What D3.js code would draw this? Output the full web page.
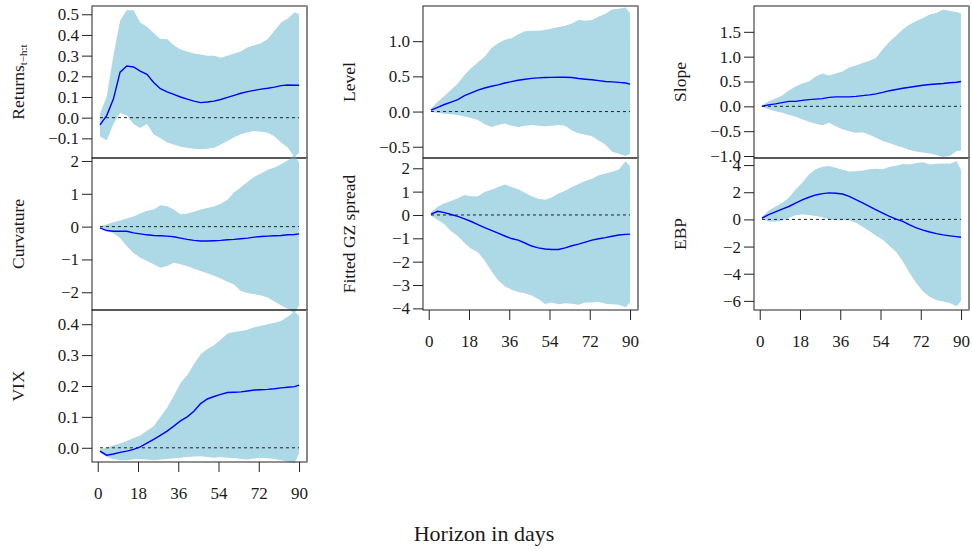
<!DOCTYPE html>
<html>
<head>
<meta charset="utf-8">
<script src="https://cdn.jsdelivr.net/npm/d3@7"></script>
<style>
body { margin: 0; background: #fff; }
text { font-family: "Liberation Serif", serif; fill: #1a1a1a; }
</style>
</head>
<body>
<div id="chart"></div>
<script>
var width = 972;
var height = 551;

var horizon = [1, 4, 7, 10, 13, 16, 19, 22, 25, 28, 31, 34, 37, 40, 43, 46, 49, 52, 55, 58, 61, 64, 67, 70, 73, 76, 79, 82, 85, 88, 90];
var xTicks = [0, 18, 36, 54, 72, 90];

var returnsMean = [-0.035, 0.01, 0.09, 0.22, 0.25, 0.245, 0.225, 0.21, 0.17, 0.14, 0.125, 0.113, 0.1, 0.09, 0.08, 0.073, 0.076, 0.08, 0.088, 0.098, 0.108, 0.118, 0.126, 0.132, 0.138, 0.142, 0.148, 0.155, 0.158, 0.157, 0.157];
var returnsUpper = [0.02, 0.1, 0.3, 0.47, 0.52, 0.52, 0.46, 0.44, 0.41, 0.38, 0.38, 0.35, 0.33, 0.32, 0.31, 0.305, 0.3, 0.3, 0.29, 0.3, 0.31, 0.32, 0.34, 0.35, 0.36, 0.38, 0.42, 0.46, 0.48, 0.51, 0.5];
var returnsLower = [-0.09, -0.11, -0.03, 0.024, 0.01, -0.03, -0.05, -0.03, -0.08, -0.1, -0.12, -0.13, -0.14, -0.145, -0.15, -0.153, -0.15, -0.145, -0.13, -0.113, -0.095, -0.08, -0.07, -0.065, -0.068, -0.073, -0.09, -0.12, -0.145, -0.19, -0.17];

var curvMean = [-0.04, -0.12, -0.14, -0.14, -0.14, -0.19, -0.22, -0.25, -0.27, -0.28, -0.29, -0.31, -0.35, -0.39, -0.42, -0.44, -0.44, -0.43, -0.42, -0.4, -0.39, -0.37, -0.35, -0.32, -0.3, -0.29, -0.28, -0.27, -0.25, -0.24, -0.22];
var curvUpper = [0, 0.07, 0.13, 0.19, 0.25, 0.31, 0.4, 0.48, 0.52, 0.65, 0.62, 0.52, 0.38, 0.4, 0.45, 0.52, 0.57, 0.61, 0.7, 0.82, 1.05, 1.2, 1.37, 1.52, 1.62, 1.73, 1.8, 1.9, 2.02, 2.2, 1.95];
var curvLower = [0, -0.12, -0.2, -0.35, -0.6, -0.8, -0.95, -1.05, -1.15, -1.25, -1.2, -1.1, -1.15, -1.2, -1.28, -1.35, -1.42, -1.5, -1.58, -1.68, -1.76, -1.96, -2.02, -2.06, -2.1, -2.16, -2.28, -2.4, -2.5, -2.65, -2.41];

var vixMean = [-0.011, -0.024, -0.02, -0.015, -0.011, -0.005, 0.003, 0.015, 0.027, 0.04, 0.054, 0.07, 0.087, 0.1, 0.118, 0.143, 0.158, 0.166, 0.173, 0.179, 0.18, 0.181, 0.184, 0.187, 0.188, 0.189, 0.191, 0.194, 0.196, 0.198, 0.203];
var vixUpper = [-0.005, 0.0, 0.008, 0.014, 0.022, 0.032, 0.04, 0.055, 0.07, 0.1, 0.13, 0.168, 0.21, 0.235, 0.27, 0.303, 0.32, 0.332, 0.35, 0.37, 0.375, 0.378, 0.382, 0.39, 0.395, 0.4, 0.405, 0.41, 0.425, 0.44, 0.427];
var vixLower = [-0.016, -0.03, -0.036, -0.04, -0.04, -0.037, -0.036, -0.038, -0.04, -0.038, -0.036, -0.034, -0.032, -0.03, -0.028, -0.027, -0.03, -0.032, -0.03, -0.032, -0.033, -0.036, -0.038, -0.035, -0.032, -0.034, -0.036, -0.04, -0.045, -0.05, -0.018];

var levelMean = [0.02, 0.06, 0.1, 0.135, 0.17, 0.225, 0.265, 0.305, 0.335, 0.36, 0.38, 0.405, 0.425, 0.445, 0.46, 0.472, 0.478, 0.483, 0.486, 0.488, 0.488, 0.483, 0.47, 0.46, 0.452, 0.44, 0.427, 0.422, 0.415, 0.405, 0.39];
var levelUpper = [0.04, 0.14, 0.22, 0.31, 0.4, 0.52, 0.62, 0.7, 0.78, 0.9, 0.97, 1.02, 1.04, 1.1, 1.14, 1.15, 1.15, 1.16, 1.18, 1.2, 1.22, 1.25, 1.3, 1.29, 1.3, 1.35, 1.39, 1.45, 1.46, 1.48, 1.4];
var levelLower = [0.0, -0.02, -0.03, -0.04, -0.05, -0.07, -0.09, -0.12, -0.18, -0.22, -0.19, -0.17, -0.2, -0.22, -0.2, -0.19, -0.2, -0.21, -0.2, -0.19, -0.2, -0.27, -0.31, -0.33, -0.35, -0.41, -0.47, -0.57, -0.6, -0.63, -0.6];

var gzMean = [0.04, 0.16, 0.1, 0.02, -0.06, -0.17, -0.28, -0.41, -0.54, -0.66, -0.78, -0.9, -1.01, -1.08, -1.2, -1.33, -1.41, -1.46, -1.48, -1.48, -1.41, -1.32, -1.25, -1.16, -1.08, -1.02, -0.97, -0.91, -0.86, -0.83, -0.82];
var gzUpper = [0.11, 0.35, 0.5, 0.6, 0.72, 0.85, 0.8, 0.8, 0.98, 1.08, 1.2, 1.3, 1.2, 1.1, 0.95, 0.8, 0.7, 0.65, 0.75, 0.92, 1.04, 1.2, 1.33, 1.45, 1.55, 1.7, 1.78, 1.85, 1.95, 2.3, 2.1];
var gzLower = [-0.03, -0.2, -0.4, -0.7, -0.9, -1.2, -1.45, -1.6, -1.95, -2.4, -2.8, -3.05, -3.2, -3.3, -3.35, -3.45, -3.6, -3.81, -3.75, -3.82, -3.78, -3.8, -3.85, -3.75, -3.75, -3.72, -3.8, -3.82, -3.85, -3.96, -3.74];

var slopeMean = [0, 0.03, 0.05, 0.075, 0.1, 0.1, 0.12, 0.135, 0.145, 0.155, 0.18, 0.19, 0.19, 0.19, 0.2, 0.215, 0.23, 0.25, 0.28, 0.315, 0.34, 0.365, 0.385, 0.405, 0.425, 0.44, 0.45, 0.46, 0.475, 0.485, 0.5];
var slopeUpper = [0.02, 0.1, 0.16, 0.22, 0.32, 0.4, 0.46, 0.5, 0.6, 0.66, 0.62, 0.66, 0.7, 0.78, 0.82, 0.87, 0.92, 0.98, 1.15, 1.3, 1.42, 1.55, 1.65, 1.72, 1.78, 1.85, 1.88, 1.95, 1.92, 1.9, 1.87];
var slopeLower = [-0.01, -0.06, -0.1, -0.13, -0.17, -0.21, -0.26, -0.31, -0.35, -0.38, -0.33, -0.4, -0.46, -0.5, -0.53, -0.52, -0.57, -0.63, -0.7, -0.74, -0.79, -0.83, -0.88, -0.91, -0.93, -0.95, -0.98, -1.02, -1.0, -0.9, -0.89];

var ebpMean = [0.1, 0.35, 0.55, 0.75, 0.95, 1.2, 1.44, 1.63, 1.8, 1.9, 1.95, 1.93, 1.87, 1.7, 1.45, 1.22, 0.96, 0.71, 0.46, 0.22, 0.02, -0.15, -0.4, -0.62, -0.79, -0.93, -1.05, -1.14, -1.21, -1.27, -1.31];
var ebpUpper = [0.17, 0.65, 0.95, 1.2, 1.6, 2.2, 2.7, 3.3, 3.7, 3.88, 3.93, 3.8, 3.65, 3.52, 3.55, 3.6, 3.7, 3.72, 3.7, 3.88, 3.95, 4.08, 4.05, 4.15, 4.2, 4.05, 4.1, 4.12, 4.1, 4.3, 3.63];
var ebpLower = [0.05, -0.15, -0.18, -0.1, 0.1, 0.3, 0.37, 0.32, 0.25, 0.15, 0.0, -0.07, -0.07, -0.07, -0.25, -0.55, -0.85, -1.2, -1.5, -1.95, -2.4, -3.1, -3.95, -4.7, -5.3, -5.7, -5.95, -6.05, -6.15, -6.4, -6.0];

var panels = [
    {label: "Returns", sub: "t\u2212h:t", col: 0, row: 0, ylim: [-0.195, 0.54], ticks: [-0.1, 0, 0.1, 0.2, 0.3, 0.4, 0.5], fmt: ".1f", mean: returnsMean, upper: returnsUpper, lower: returnsLower},
    {label: "Curvature", col: 0, row: 1, ylim: [-2.54, 2.09], ticks: [-2, -1, 0, 1, 2], fmt: "d", mean: curvMean, upper: curvUpper, lower: curvLower},
    {label: "VIX", col: 0, row: 2, ylim: [-0.046, 0.446], ticks: [0, 0.1, 0.2, 0.3, 0.4], fmt: ".1f", mean: vixMean, upper: vixUpper, lower: vixLower, xaxis: true},
    {label: "Level", col: 1, row: 0, ylim: [-0.66, 1.5], ticks: [-0.5, 0, 0.5, 1.0], fmt: ".1f", mean: levelMean, upper: levelUpper, lower: levelLower},
    {label: "Fitted GZ spread", col: 1, row: 1, ylim: [-4.07, 2.44], ticks: [-4, -3, -2, -1, 0, 1, 2], fmt: "d", mean: gzMean, upper: gzUpper, lower: gzLower, xaxis: true},
    {label: "Slope", col: 2, row: 0, ylim: [-1.04, 2.02], ticks: [-1, -0.5, 0, 0.5, 1.0, 1.5], fmt: ".1f", mean: slopeMean, upper: slopeUpper, lower: slopeLower},
    {label: "EBP", col: 2, row: 1, ylim: [-6.67, 4.52], ticks: [-6, -4, -2, 0, 2, 4], fmt: "d", mean: ebpMean, upper: ebpUpper, lower: ebpLower, xaxis: true}
];

var colLeft = [92, 423, 754];
var boxW = 215, boxH = 152, top0 = 6;

var svg = d3.select("#chart")
    .append("svg")
    .attr("width", width)
    .attr("height", height)

panels.forEach(function(p) {
    var x0 = colLeft[p.col];
    var y0 = top0 + p.row * boxH;
    var x = d3.scaleLinear().domain([-2.56, 93.56]).range([x0, x0 + boxW]);
    var y = d3.scaleLinear().domain(p.ylim).range([y0 + boxH, y0]);
    var g = svg.append("g");

    var rows = horizon.map(function(h, i) {
        return {h: h, m: p.mean[i], lo: p.lower[i], hi: p.upper[i]};
    });

    // confidence band (not clipped, like the original)
    g.append("path").datum(rows)
        .attr("d", d3.area().x(d => x(d.h)).y0(d => y(d.lo)).y1(d => y(d.hi)))
        .attr("fill", "#add8e6");

    g.append("line")
        .attr("x1", x(1)).attr("x2", x(90))
        .attr("y1", y(0)).attr("y2", y(0))
        .attr("stroke", "#222")
        .attr("stroke-width", 1)
        .attr("stroke-dasharray", "3,3");

    g.append("path").datum(rows)
        .attr("d", d3.line().x(d => x(d.h)).y(d => y(d.m)))
        .attr("fill", "none")
        .attr("stroke", "#0000ff")
        .attr("stroke-width", 1.4);

    // box
    g.append("rect")
        .attr("x", x0).attr("y", y0)
        .attr("width", boxW).attr("height", boxH)
        .attr("fill", "none")
        .attr("stroke", "#222")
        .attr("stroke-width", 1);
    g.append("line")
        .attr("x1", x0 + boxW).attr("x2", x0 + boxW)
        .attr("y1", y0).attr("y2", y0 + boxH)
        .attr("stroke", "#888")
        .attr("stroke-width", 2);

    var ya = g.append("g")
        .attr("transform", "translate(" + x0 + ",0)")
        .call(d3.axisLeft(y).tickValues(p.ticks).tickFormat(d3.format(p.fmt)).tickSize(10).tickPadding(3));
    ya.select(".domain").remove();
    ya.selectAll("line").attr("stroke", "#222");
    ya.selectAll("text").attr("font-size", 17).attr("font-family", "Liberation Serif, serif").attr("fill", "#1a1a1a");

    var lab = g.append("text")
        .attr("transform", "translate(" + (x0 - 74) + "," + (y0 + boxH / 2) + ") rotate(-90)")
        .attr("text-anchor", "middle")
        .attr("dy", "0.35em")
        .attr("font-size", 17.5)
        .text(p.label);
    if (p.sub) {
        lab.append("tspan")
            .attr("font-size", 11)
            .attr("dy", "0.3em")
            .text(p.sub);
    }

    if (p.xaxis) {
        var xa = g.append("g")
            .attr("transform", "translate(0," + (y0 + boxH) + ")")
            .call(d3.axisBottom(x).tickValues(xTicks).tickSize(10).tickPadding(15).tickSizeOuter(0));
        xa.select(".domain").remove();
        xa.selectAll("line").attr("stroke", "#222");
        xa.selectAll("text").attr("font-size", 17).attr("font-family", "Liberation Serif, serif").attr("fill", "#1a1a1a");
    }
});

svg.append("text")
    .attr("x", 484)
    .attr("y", 541)
    .attr("text-anchor", "middle")
    .attr("font-size", 22)
    .text("Horizon in days");
</script>
</body>
</html>
